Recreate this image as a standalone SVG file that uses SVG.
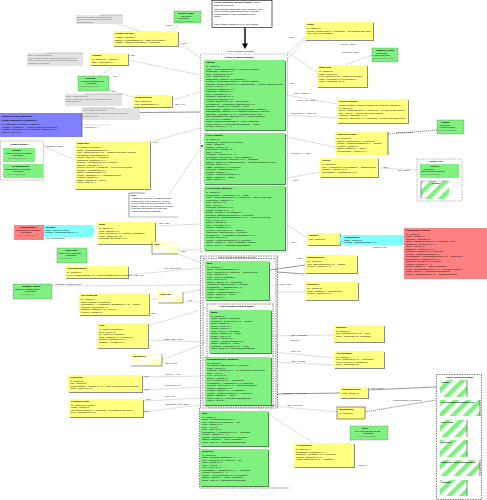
<svg xmlns="http://www.w3.org/2000/svg" width="487" height="500" viewBox="0 0 487 500">
<defs>
<style>
.t{font-family:"Liberation Sans",Arial,sans-serif;font-size:2.5px;fill:#000}
.b{font-weight:bold}
.n{fill:#666}
.lb{font-family:"Liberation Sans",Arial,sans-serif;font-size:2.5px;fill:#222}
.g{fill:#80f080}
.y{fill:#ffff80}
.sh{fill:#8a8a8a}
.gsh{fill:#4a8a4a}
.nt{fill:#e2e2e2}
.dc{fill:none;stroke:#777;stroke-width:0.5;stroke-dasharray:1.5,1}
.db{fill:none;stroke:#333;stroke-width:0.6;stroke-dasharray:1.5,1}
.ln{stroke:#555;stroke-width:0.4;stroke-dasharray:0.8,0.8;fill:none}
.sl{stroke:#333;stroke-width:0.5;fill:none}
.gd{stroke:#3a3a3a;stroke-width:0.6;stroke-dasharray:1.2,0.8}
</style>
<pattern id="hg" width="9" height="9" patternUnits="userSpaceOnUse" patternTransform="rotate(45)">
<rect width="9" height="9" fill="#ffffff"/><rect width="4.5" height="9" fill="#80f080"/>
</pattern>
<linearGradient id="yg" x1="0" y1="0" x2="1" y2="1">
<stop offset="0" stop-color="#ffff80"/><stop offset="0.5" stop-color="#ffffff"/><stop offset="1" stop-color="#ffff80"/>
</linearGradient>
</defs>
<rect width="487" height="500" fill="#fff"/>

<g id="connectors">
<line class="ln" x1="118" y1="24" x2="140" y2="31"/>
<line class="ln" x1="182" y1="23" x2="170" y2="31"/>
<text class="lb" x="165" y="26">«trace»</text>
<line class="ln" x1="178" y1="42" x2="201" y2="58"/>
<text class="lb" x="181" y="44">«use»</text>
<line class="ln" x1="305" y1="38" x2="287" y2="54"/>
<text class="lb" x="288" y="38">«use»</text>
<line class="ln" x1="287" y1="52" x2="317" y2="72"/>
<text class="lb" x="289" y="84">«use»</text>
<line class="ln" x1="372" y1="55" x2="345" y2="65"/>
<text class="lb" x="339" y="45">«refines» stops</text>
<text class="lb" x="341" y="53">«realises» point</text>
<line class="ln" x1="287" y1="95" x2="337" y2="104"/>
<text class="lb" x="293" y="94">«use» network</text>
<text class="lb" x="296" y="101">+lines «ref» route</text>
<line class="ln" x1="287" y1="115" x2="337" y2="118"/>
<text class="lb" x="290" y="114">+services 0..* «use» ref</text>
<line class="ln" x1="287" y1="137" x2="335" y2="147"/>
<text class="lb" x="290" y="154">+journey 0..* «use»</text>
<line class="gd" x1="388" y1="134" x2="437" y2="130"/>
<text class="lb" x="395" y="133">«derived» frame</text>
<line class="ln" x1="378" y1="168" x2="417" y2="170"/>
<text class="lb" x="382" y="168">«use»</text>
<text class="lb" x="397" y="171">«ref» comp</text>
<line class="ln" x1="287" y1="178" x2="320" y2="172"/>
<text class="lb" x="292" y="181">«use»</text>
<line class="ln" x1="287" y1="225" x2="310" y2="240"/>
<text class="lb" x="290" y="243">«use»</text>
<text class="lb" x="372" y="248">«refines» cnt</text>
<line class="sl" x1="270" y1="270" x2="305" y2="265"/>
<text class="lb" x="296" y="259">«use»</text>
<line class="sl" x1="277" y1="272" x2="305" y2="274"/>
<line class="ln" x1="277" y1="292" x2="305" y2="292"/>
<text class="lb" x="278" y="285">+zone «use»</text>
<line class="ln" x1="150" y1="244" x2="200" y2="262"/>
<text class="lb" x="163" y="269">«ref» stop place</text>
<line class="ln" x1="178" y1="250" x2="200" y2="250"/>
<text class="lb" x="180" y="252">«use»</text>
<line class="ln" x1="128" y1="275" x2="200" y2="268"/>
<text class="lb" x="133" y="276">«use» ref</text>
<line class="ln" x1="52" y1="286" x2="200" y2="285"/>
<text class="lb" x="54" y="285">«realises» network point</text>
<line class="ln" x1="149" y1="300" x2="200" y2="290"/>
<text class="lb" x="150" y="314">«use»</text>
<line class="ln" x1="183" y1="302" x2="200" y2="302"/>
<text class="lb" x="187" y="301">«ref»</text>
<line class="ln" x1="148" y1="326" x2="200" y2="310"/>
<line class="ln" x1="148" y1="340" x2="205" y2="342"/>
<text class="lb" x="163" y="340">+map «use» layer</text>
<line class="ln" x1="162" y1="360" x2="205" y2="343"/>
<text class="lb" x="164" y="364">«use» point</text>
<line class="ln" x1="142" y1="377" x2="205" y2="376"/>
<text class="lb" x="143" y="377">«use»</text>
<text class="lb" x="164" y="375">+layer 0..* «ref»</text>
<line class="ln" x1="142" y1="390" x2="205" y2="387"/>
<text class="lb" x="143" y="390">«use»</text>
<text class="lb" x="164" y="386">+projection 0..1</text>
<line class="ln" x1="142" y1="401" x2="205" y2="398"/>
<text class="lb" x="145" y="400">«use»</text>
<text class="lb" x="164" y="397">+link «ref»</text>
<line class="ln" x1="142" y1="412" x2="200" y2="405"/>
<text class="lb" x="143" y="412">«use»</text>
<text class="lb" x="164" y="405">+sequence «ref» order</text>
<line class="ln" x1="272" y1="336" x2="334" y2="335"/>
<text class="lb" x="290" y="336">«use» entrance</text>
<text class="lb" x="289" y="341">+quays 0..*</text>
<line class="ln" x1="272" y1="352" x2="334" y2="358"/>
<text class="lb" x="290" y="352">«use» ref</text>
<line class="ln" x1="272" y1="362" x2="334" y2="365"/>
<text class="lb" x="290" y="362">«use» access</text>
<line class="sl" x1="277" y1="394" x2="340" y2="393"/>
<text class="lb" x="281" y="394">+equipment «ref» place</text>
<line class="ln" x1="272" y1="406" x2="337" y2="412"/>
<text class="lb" x="286" y="406">«use» element</text>
<line class="sl" x1="368" y1="390" x2="436" y2="387"/>
<text class="lb" x="370" y="389">«use» types</text>
<line class="gd" x1="365" y1="412" x2="436" y2="400"/>
<text class="lb" x="392" y="401">«enumerations» values ref</text>
<line class="ln" x1="257" y1="407" x2="314" y2="443"/>
<line class="ln" x1="352" y1="440" x2="348" y2="444"/>
<text class="lb" x="357" y="466">«refines»</text>
<line class="ln" x1="128" y1="60" x2="200" y2="75"/>
<text class="lb" x="129" y="56">«use»</text>
<line class="ln" x1="100" y1="76" x2="115" y2="65"/>
<text class="lb" x="112" y="77">«ref»</text>
<line class="ln" x1="109" y1="90" x2="133" y2="97"/>
<text class="lb" x="110" y="92">«ref»</text>
<line class="ln" x1="172" y1="100" x2="200" y2="92"/>
<text class="lb" x="174" y="105">«use» ver</text>
<line x1="82" y1="113" x2="200" y2="112" stroke="#222" stroke-width="0.5"/>
<line x1="82" y1="125" x2="110" y2="125" stroke="#888" stroke-width="0.3"/>
<text class="lb" x="83" y="128">+versions 0..*</text>
<line class="ln" x1="150" y1="142" x2="200" y2="128"/>
<text class="lb" x="152" y="143">«use»</text>
<line class="ln" x1="43" y1="146" x2="75" y2="160"/>
<text class="lb" x="45" y="147">«realises» frame</text>
<line class="ln" x1="202" y1="146" x2="170" y2="193"/>
<circle cx="202" cy="146" r="0.9" fill="#222"/>
<line class="ln" x1="155" y1="226" x2="200" y2="224"/>
<text class="lb" x="158" y="224">«use» site</text>
<line class="ln" x1="287" y1="60" x2="305" y2="40"/>
</g>

<g id="note-top-gray">
<rect class="nt" x="76" y="15" width="47" height="9"/>
<line x1="100" y1="15" x2="123" y2="15" stroke="#888" stroke-width="0.5"/>
<text class="t n" x="77" y="17.5">Sources: IFOPT, Transmodel v5</text>
<text class="t n" x="77" y="20">derived from CEN TC 278 work</text>
<text class="t n" x="77" y="22.5">on stop places.</text>
</g>

<g id="green-top">
<rect class="g" x="174" y="11" width="27" height="12" stroke="#444" stroke-width="0.4" stroke-dasharray="1,0.6"/>
<text class="t b" x="178" y="14">NeTEx Frame</text>
<text class="t" x="180" y="16.5">«Package»</text>
<text class="t" x="177" y="19">Versioning</text>
<text class="t n" x="176" y="21.5">from Framework</text>
</g>

<g id="yellow-product">
<rect class="sh" x="114" y="32" width="65" height="15"/>
<rect class="y" x="113" y="31" width="65" height="15"/>
<text class="t b" x="115" y="34">ProductVersion</text>
<text class="t" x="115" y="38">version : String [1]</text>
<text class="t" x="115" y="40.5">status : VersionStatus [1] = draft (on creation)</text>
<text class="t" x="115" y="43">validity : ValidityCondition [0..*] {ordered}</text>
</g>

<g id="box-top-center">
<rect x="212" y="0.5" width="60" height="27" fill="#fff" stroke="#000" stroke-width="0.6"/>
<text class="t b" x="214" y="3">Public Transport Network Model - v1.0</text>
<text class="t" x="214" y="5.5">Stations overview</text>
<text class="t" x="214" y="9.5">This diagram shows the main classes of the</text>
<text class="t" x="214" y="12">public network stations package and their</text>
<text class="t" x="214" y="14.5">relationships to other packages of the</text>
<text class="t" x="214" y="17">model.</text>
<text class="t" x="214" y="24.5">Last modified 2012-03-14 by the editors</text>
<line x1="245" y1="27.5" x2="245" y2="44" stroke="#000" stroke-width="1.4"/>
<polygon points="242,43.5 248,43.5 245,49" fill="#000"/>
</g>

<g id="container-stations">
<text class="t" x="227" y="51.5">Public Network Package</text>
<rect class="dc" x="200.5" y="54" width="87" height="198"/>
<text class="t b" x="225" y="58">Public Network Stations</text>
</g>

<g id="green-station">
<rect class="gsh" x="205" y="61" width="81" height="70"/>
<rect class="g" x="204" y="60" width="81" height="70"/>
<text class="t b" x="206" y="63">Station</text>
<text class="t" x="206" y="67">id : String [1]</text>
<text class="t" x="206" y="69.5">name : MultilingualString [1..*] {ordered, unique}</text>
<text class="t" x="206" y="72">shortName : String [0..1]</text>
<text class="t" x="206" y="74.5">code : PublicCode [0..1]</text>
<text class="t" x="206" y="77">type : StationType [1]</text>
<text class="t" x="206" y="79.5">description : String [0..1] {readOnly}</text>
<text class="t" x="206" y="82">location : GeographicPoint [1] = default location</text>
<text class="t" x="206" y="84.5">address : PostalAddress [0..1] {subsets site} = primary address of site</text>
<text class="t" x="206" y="87">levels : Level [0..*]</text>
<text class="t" x="206" y="89.5">entrances : Entrance [1..*]</text>
<text class="t" x="206" y="92">platforms : Platform [0..*]</text>
<text class="t" x="206" y="94.5">zone : FareZone [0..1]</text>
<text class="t" x="206" y="97">operator : Operator [0..1]</text>
<text class="t" x="206" y="99.5">validFrom : DateTime [1]</text>
<text class="t" x="206" y="102">validTo : DateTime [0..1] = open ended</text>
<text class="t" x="206" y="104.5">accessibility : AccessibilityAssessment [0..1]</text>
<text class="t" x="206" y="107">facilities : Facility [0..*] {unique} = none</text>
<text class="t" x="206" y="109.5">parentStation : Station [0..1] {subsets group, readOnly}</text>
<text class="t" x="206" y="112">childStations : Station [0..*] {redefines members, ordered}</text>
<text class="t" x="206" y="114.5">timezone : TimeZone [0..1] = local time of the area</text>
<text class="t" x="206" y="117">wheelchairBoarding : Boolean [0..1] = false {readOnly}</text>
<text class="t" x="206" y="119.5">url : URI [0..1] {unique}</text>
<text class="t" x="206" y="122">status : OperationalStatus [1] = active {ordered}</text>
<text class="t" x="206" y="124.5">notes : Note [0..*] {subsets annotations} = empty</text>
<text class="t" x="206" y="127">version : Integer [1] = 1</text>
</g>

<g id="green-level">
<rect class="gsh" x="205" y="134" width="81" height="51"/>
<rect class="g" x="204" y="133" width="81" height="51"/>
<text class="t b" x="206" y="136">Level (Layout)</text>
<text class="t" x="206" y="140">id : String [1]</text>
<text class="t" x="206" y="142.5">publicCode : String [0..1] {unique}</text>
<text class="t" x="206" y="145">name : String [1]</text>
<text class="t" x="206" y="147.5">number : Integer [1]</text>
<text class="t" x="206" y="150">description : String [0..1]</text>
<text class="t" x="206" y="152.5">area : Area [1]</text>
<text class="t" x="206" y="155">elevation : Length [0..1] = 0</text>
<text class="t" x="206" y="157.5">accessible : Boolean [1] = true {readOnly}</text>
<text class="t" x="206" y="160">allAreasWheelchair : Boolean [0..1] = unknown</text>
<text class="t" x="206" y="162.5">station : Station [1] {subsets owner} = containing station of level</text>
<text class="t" x="206" y="165">spaces : Space [0..*]</text>
<text class="t" x="206" y="167.5">paths : PathLink [0..*] {ordered}</text>
<text class="t" x="206" y="170">junctions : PathJunction [0..*]</text>
<text class="t" x="206" y="172.5">version : Integer [1]</text>
<text class="t" x="206" y="175">validity : ValidityCondition [0..*]</text>
<text class="t" x="206" y="177.5">status : Status [1] = active</text>
<text class="t" x="206" y="180">notes : Note [0..*]</text>
</g>

<g id="green-pre">
<rect class="gsh" x="205" y="187" width="81" height="64"/>
<rect class="g" x="204" y="186" width="81" height="64"/>
<text class="t b" x="206" y="189">PrePlatform (abstract)</text>
<text class="t" x="206" y="193">id : String [1]</text>
<text class="t" x="206" y="195.5">allowedUse : AllowedUse [0..1] = both</text>
<text class="t" x="206" y="198">name : MultilingualString [1..*] {ordered} = name of the quay</text>
<text class="t" x="206" y="200.5">publicCode : String [0..1]</text>
<text class="t" x="206" y="203">label : String [0..1]</text>
<text class="t" x="206" y="205.5">area : Area [1]</text>
<text class="t" x="206" y="208">compass : Bearing [0..1]</text>
<text class="t" x="206" y="210.5">length : Length [0..1] = 0</text>
<text class="t" x="206" y="213">height : Length [0..1] {readOnly}</text>
<text class="t" x="206" y="215.5">boarding : BoardingPosition [0..*] {ordered}</text>
<text class="t" x="206" y="218">destinations : DestinationDisplay [0..*] = all services of line</text>
<text class="t" x="206" y="220.5">level : Level [0..1]</text>
<text class="t" x="206" y="223">station : Station [1]</text>
<text class="t" x="206" y="225.5">zone : FareZone [0..1]</text>
<text class="t" x="206" y="228">lighting : Lighting [0..1]</text>
<text class="t" x="206" y="230.5">covered : Covered [0..1] = indoors</text>
<text class="t" x="206" y="233">equipment : Equipment [0..*] {unique}</text>
<text class="t" x="206" y="235.5">accessibility : AccessibilityAssessment [0..1]</text>
<text class="t" x="206" y="238">version : Integer [1]</text>
<text class="t" x="206" y="240.5">validity : ValidityCondition [0..*] {ordered}</text>
<text class="t" x="206" y="243">status : Status [1] = active {readOnly, unique}</text>
<text class="t" x="206" y="245.5">notes : Note [0..*] {subsets annotations}</text>
</g>

<g id="container-misc">
<rect class="db" x="200.5" y="256" width="77" height="152"/>
<rect class="db" x="203" y="258.5" width="73" height="147"/>
<text class="t" x="218" y="258">Public Network Equipment Places</text>
</g>

<g id="green-misc">
<rect class="gsh" x="206" y="262" width="64" height="39"/>
<rect class="g" x="205" y="261" width="64" height="39"/>
<text class="t b" x="207" y="264">Misc</text>
<text class="t" x="207" y="267.5">id : String [1]</text>
<text class="t" x="207" y="270">name : MultilingualString [1..*]</text>
<text class="t" x="207" y="272.5">type : PlaceType [1] {ordered} = general place</text>
<text class="t" x="207" y="275">code : String [0..1]</text>
<text class="t" x="207" y="277.5">area : Area [1] {readOnly}</text>
<text class="t" x="207" y="280">level : Level [0..1]</text>
<text class="t" x="207" y="282.5">station : Station [1] = containing</text>
<text class="t" x="207" y="285">equipment : Equipment [0..*] {unique}</text>
<text class="t" x="207" y="287.5">accessibility : Assessment [0..1]</text>
<text class="t" x="207" y="290">version : Integer [1] = 1</text>
<text class="t" x="207" y="292.5">validity : ValidityCondition [0..*]</text>
<text class="t" x="207" y="295">status : Status [1] = active</text>
<text class="t" x="207" y="297.5">notes : Note [0..*]</text>
</g>

<g id="container-maps">
<rect class="db" x="207" y="304" width="66" height="103"/>
<text class="t b" x="219" y="307">Public Network Station Maps</text>
</g>

<g id="green-maps">
<rect class="gsh" x="210" y="311" width="62" height="43"/>
<rect class="g" x="209" y="310" width="62" height="43"/>
<text class="t b" x="211" y="313">Maps</text>
<text class="t" x="211" y="316.5">id : String [1]</text>
<text class="t" x="211" y="319">name : String [1] {ordered}</text>
<text class="t" x="211" y="321.5">projection : Projection [0..1] = default</text>
<text class="t" x="211" y="324">scale : Integer [1]</text>
<text class="t" x="211" y="326.5">layers : Layer [0..*]</text>
<text class="t" x="211" y="329">points : Point [0..*]</text>
<text class="t" x="211" y="331.5">links : Link [0..*] {ordered}</text>
<text class="t" x="211" y="334">station : Station [1] = owner</text>
<text class="t" x="211" y="336.5">image : URI [0..1]</text>
<text class="t" x="211" y="339">version : Integer [1]</text>
<text class="t" x="211" y="341.5">validity : ValidityCondition [0..*]</text>
<text class="t" x="211" y="344">status : Status [1] = active</text>
<text class="t" x="211" y="346.5">language : Language [0..1] = local</text>
<text class="t" x="211" y="349">notes : Note [0..*] {subsets annotations}</text>
</g>

<g id="green-equip">
<rect class="gsh" x="206" y="358" width="66" height="48"/>
<rect class="g" x="205" y="357" width="66" height="48"/>
<text class="t b" x="207" y="360">EquipmentPlace (abstract)</text>
<text class="t" x="207" y="363.5">id : String [1]</text>
<text class="t" x="207" y="366">equipment : Equipment [0..*] {unique}</text>
<text class="t" x="207" y="368.5">name : String [1]</text>
<text class="t" x="207" y="371">positions : Position [0..*] = all positions of equipment</text>
<text class="t" x="207" y="373.5">area : Area [1]</text>
<text class="t" x="207" y="376">level : Level [0..1]</text>
<text class="t" x="207" y="378.5">station : Station [1]</text>
<text class="t" x="207" y="381">type : PlaceType [1] = equipment</text>
<text class="t" x="207" y="383.5">accessibility : Assessment [0..1] {ordered}</text>
<text class="t" x="207" y="386">covered : Covered [0..1] = indoors {readOnly}</text>
<text class="t" x="207" y="388.5">lighting : Lighting [0..1]</text>
<text class="t" x="207" y="391">version : Integer [1] = 1 {readOnly}</text>
<text class="t" x="207" y="393.5">validity : ValidityCondition [0..*] {ordered}</text>
<text class="t" x="207" y="396">status : Status [1] = active</text>
<text class="t" x="207" y="398.5">notes : Note [0..*] {subsets annotations}</text>
<text class="t" x="207" y="401">parent : Site [1]</text>
</g>

<g id="container-bottom">
<polyline class="db" points="199.5,408 199.5,488 289,488"/>
</g>

<g id="green-item">
<rect class="gsh" x="201" y="412" width="68" height="35"/>
<rect class="g" x="200" y="411" width="68" height="35"/>
<text class="t b" x="202" y="414">Item</text>
<text class="t" x="202" y="417.5">id : String [1]</text>
<text class="t" x="202" y="420">name : MultilingualString [1..*]</text>
<text class="t" x="202" y="422.5">type : ItemType [1] {ordered} = any</text>
<text class="t" x="202" y="425">code : String [0..1]</text>
<text class="t" x="202" y="427.5">area : Area [1]</text>
<text class="t" x="202" y="430">level : Level [0..1]</text>
<text class="t" x="202" y="432.5">accessibility : Assessment [0..1] = unknown</text>
<text class="t" x="202" y="435">version : Integer [1] = 1</text>
<text class="t" x="202" y="437.5">validity : ValidityCondition [0..*] {ordered}</text>
<text class="t" x="202" y="440">status : Status [1] = active {readOnly}</text>
<text class="t" x="202" y="442.5">notes : Note [0..*] {subsets annotations}</text>
</g>

<g id="green-itemplace">
<rect class="gsh" x="201" y="450" width="68" height="37"/>
<rect class="g" x="200" y="449" width="68" height="37"/>
<text class="t b" x="202" y="452">ItemPlace</text>
<text class="t" x="202" y="455.5">id : String [1]</text>
<text class="t" x="202" y="458">name : MultilingualString [1..*]</text>
<text class="t" x="202" y="460.5">type : PlaceType [1] {ordered} = any</text>
<text class="t" x="202" y="463">code : String [0..1]</text>
<text class="t" x="202" y="465.5">area : Area [1]</text>
<text class="t" x="202" y="468">level : Level [0..1]</text>
<text class="t" x="202" y="470.5">accessibility : Assessment [0..1] = unknown</text>
<text class="t" x="202" y="473">version : Integer [1] = 1</text>
<text class="t" x="202" y="475.5">validity : ValidityCondition [0..*] {ordered}</text>
<text class="t" x="202" y="478">status : Status [1] = active {readOnly}</text>
<text class="t" x="202" y="480.5">notes : Note [0..*] {subsets annotations}</text>
</g>

<g id="y-topright">
<rect class="sh" x="306" y="23" width="68" height="18"/>
<rect class="y" x="305" y="22" width="68" height="18"/>
<text class="t b" x="307" y="25">Route</text>
<text class="t" x="307" y="29">id : String [1]</text>
<text class="t" x="307" y="31.5">points : RoutePoint [1..*] {ordered} = all points of the route</text>
<text class="t" x="307" y="34">line : Line [1] {readOnly}</text>
</g>

<g id="green-tr">
<rect class="g" x="372" y="48" width="26" height="14" stroke="#444" stroke-width="0.4" stroke-dasharray="1,0.6"/>
<text class="t b" x="376" y="51">Network Points</text>
<text class="t" x="376" y="53.5">«Package»</text>
<text class="t" x="374" y="56">Point and Link</text>
<text class="t n" x="373" y="58.5">from NeTEx Part 1</text>
</g>

<g id="y-stoppoint">
<rect class="sh" x="318" y="66" width="50" height="22"/>
<rect class="y" x="317" y="65" width="50" height="22"/>
<text class="t b" x="319" y="68">StopPoint</text>
<text class="t" x="319" y="72">id : String [1]</text>
<text class="t" x="319" y="74.5">name : String [1]</text>
<text class="t" x="319" y="77">type : StopType [1] = onstreet bus stop</text>
<text class="t" x="319" y="79.5">zone : FareZone [0..1] {readOnly}</text>
<text class="t" x="319" y="82">place : StopPlace [0..1]</text>
</g>

<g id="y-line">
<rect class="sh" x="338" y="100" width="71" height="24"/>
<rect class="y" x="337" y="99" width="71" height="24"/>
<text class="t b" x="339" y="102">ServiceJourney</text>
<text class="t" x="339" y="106">journeyPattern : JourneyPattern [1] {ordered, readOnly}</text>
<text class="t" x="339" y="108.5">id : String [1]</text>
<text class="t" x="339" y="111">times : PassingTime [1..*] {ordered} = all calls of the journey</text>
<text class="t" x="339" y="113.5">line : Line [1] = parent line of the pattern</text>
<text class="t" x="339" y="116">operator : Operator [0..1]</text>
<text class="t" x="339" y="118.5">dayType : DayType [1..*] {ordered} = service calendar of day</text>
</g>

<g id="y-frame">
<rect class="y" x="335" y="132" width="53" height="23"/>
<line x1="388" y1="132" x2="388" y2="155" stroke="#111" stroke-width="0.6"/>
<text class="t b" x="337" y="135">StopPlaceFrame</text>
<text class="t" x="337" y="139">id : String [1]</text>
<text class="t" x="337" y="141.5">places : StopPlace [0..*] {ordered}</text>
<text class="t" x="337" y="144">validity : ValidityCondition [0..*] = default</text>
<text class="t" x="337" y="146.5">version : Integer [1]</text>
<text class="t" x="337" y="149">status : Status [1] = active</text>
<text class="t" x="337" y="151.5">prerequisites : Frame [0..*]</text>
</g>

<g id="green-frame">
<rect class="g" x="437" y="120" width="27" height="14" stroke="#444" stroke-width="0.4" stroke-dasharray="1,0.6"/>
<text class="t b" x="441" y="123">Frames</text>
<text class="t" x="439" y="125.5">«Package»</text>
<text class="t" x="439" y="128">Version Frame</text>
<text class="t n" x="438" y="130.5">from Framework</text>
</g>

<g id="y-vehicle">
<rect class="sh" x="321" y="159" width="58" height="19"/>
<rect class="y" x="320" y="158" width="58" height="19"/>
<text class="t b" x="322" y="161">Vehicle</text>
<text class="t" x="322" y="165">id : String [1]</text>
<text class="t" x="322" y="167.5">type : VehicleType [1] {readOnly} = standard bus</text>
<text class="t" x="322" y="170">capacity : Integer [0..1]</text>
<text class="t" x="322" y="172.5">accessibility : Assessment [0..1]</text>
</g>

<g id="container-com">
<rect class="dc" x="417" y="159" width="45" height="42"/>
<text class="t b" x="429" y="162">Comp..Gen</text>
<rect class="g" x="420" y="164" width="39" height="14"/>
<text class="t b" x="430" y="167">Generic</text>
<text class="t" x="422" y="169.5">«Package»</text>
<text class="t" x="421" y="172">Component Generics</text>
<text class="t n" x="422" y="174.5">from Framework</text>
<rect x="421" y="181" width="28" height="18" fill="url(#hg)"/>
<line x1="421" y1="181" x2="449" y2="181" stroke="#777" stroke-width="0.4"/>
<line x1="421" y1="181" x2="421" y2="199" stroke="#333" stroke-width="0.5"/>
<text class="t b" x="432" y="184">Group</text>
</g>

<g id="y-small-right">
<rect class="sh" x="308" y="234" width="33" height="12"/>
<rect class="y" x="307" y="233" width="33" height="12"/>
<text class="t b" x="309" y="236">Contact</text>
<text class="t" x="309" y="240">info : String [1]</text>
</g>

<g id="cyan-right">
<path d="M344,235 L405,235 L405,245 L344,245 Q340,245 340,240 Q340,235 344,235 Z" fill="#80ffff"/>
<text class="t b" x="344" y="238">Organisation</text>
<text class="t" x="344" y="240.5">name : String [1]</text>
<text class="t" x="344" y="243">contact : ContactDetails [0..1]</text>
</g>

<g id="red-right">
<rect x="404" y="228" width="83" height="51" fill="#ff8080"/>
<text class="t b" x="406" y="231">Operational Context</text>
<text class="t" x="406" y="234.5">id : String [1]</text>
<text class="t" x="406" y="237">name : String [1]</text>
<text class="t" x="406" y="239.5">operator : Operator [1]</text>
<text class="t" x="406" y="242">mode : TransportMode [1..*] {ordered} = bus</text>
<text class="t" x="406" y="244.5">submode : Submode [0..1]</text>
<text class="t" x="406" y="247">area : Area [0..1]</text>
<text class="t" x="406" y="249.5">authority : Authority [0..1]</text>
<text class="t" x="406" y="252">contract : Contract [0..*] {ordered}</text>
<text class="t" x="406" y="254.5">validity : ValidityCondition [0..*]</text>
<text class="t" x="406" y="257">responsibility : ResponsibilitySet [0..1] = default set</text>
<text class="t" x="406" y="259.5">department : Department [0..*]</text>
<text class="t" x="406" y="262">garages : Garage [0..*] {unique}</text>
<text class="t" x="406" y="264.5">version : Integer [1] = 1</text>
<text class="t" x="406" y="267">status : Status [1] = active {readOnly}</text>
<text class="t" x="406" y="269.5">types : OrganisationType [1..*] = operator, authority</text>
<text class="t" x="406" y="272">notes : Note [0..*] {subsets annotations}</text>
<text class="t" x="406" y="274.5">parent : Organisation [0..1] = holding company</text>
</g>

<g id="y-r1">
<rect class="sh" x="306" y="256" width="52" height="18"/>
<rect class="y" x="305" y="255" width="52" height="18"/>
<text class="t b" x="307" y="258">EquipmentRef</text>
<text class="t" x="307" y="262">ref : String [1]</text>
<text class="t" x="307" y="264.5">type : EquipmentType [1] = default</text>
<text class="t" x="307" y="267">version : Integer [0..1]</text>
</g>

<g id="y-r2">
<rect class="sh" x="306" y="283" width="53" height="18"/>
<rect class="y" x="305" y="282" width="53" height="18"/>
<text class="t b" x="307" y="285">TariffZone</text>
<text class="t" x="307" y="289">ref : String [1]</text>
<text class="t" x="307" y="291.5">name : String [1] = default zone</text>
<text class="t" x="307" y="294">version : Integer [0..1]</text>
</g>

<g id="y-r3">
<rect class="sh" x="335" y="326" width="50" height="17"/>
<rect class="y" x="334" y="325" width="50" height="17"/>
<text class="t b" x="336" y="328">Entrance</text>
<text class="t" x="336" y="331.5">id : String [1]</text>
<text class="t" x="336" y="334">type : EntranceType [1] = main</text>
<text class="t" x="336" y="336.5">place : StopPlace [1] {readOnly}</text>
</g>

<g id="y-r4">
<rect class="sh" x="335" y="352" width="50" height="17"/>
<rect class="y" x="334" y="351" width="50" height="17"/>
<text class="t b" x="336" y="354">AccessSpace</text>
<text class="t" x="336" y="357.5">id : String [1]</text>
<text class="t" x="336" y="360">type : SpaceType [1] = concourse</text>
<text class="t" x="336" y="362.5">level : Level [0..1] {readOnly}</text>
<text class="t" x="336" y="365">place : StopPlace [1]</text>
</g>

<g id="y-r5">
<rect class="sh" x="341" y="388" width="28" height="11"/>
<rect class="y" x="340" y="387" width="28" height="11"/>
<text class="t b" x="342" y="390">EquipmentType</text>
<text class="t" x="342" y="394">kind : String [1]</text>
</g>

<g id="y-r6">
<rect class="y" x="337" y="407" width="28" height="12" stroke="#222" stroke-width="0.5"/>
<text class="t b" x="339" y="410">SiteElement</text>
<text class="t" x="339" y="414">id : String [1]</text>
</g>

<g id="green-r7">
<rect class="g" x="350" y="426" width="38" height="14" stroke="#444" stroke-width="0.4" stroke-dasharray="1,0.6"/>
<text class="t b" x="362" y="429">Sites</text>
<text class="t" x="355" y="431.5">Site and Site Elements</text>
<text class="t" x="362" y="434">«Package»</text>
<text class="t n" x="358" y="436.5">from Framework</text>
</g>

<g id="y-r8">
<rect class="sh" x="295" y="444" width="60" height="24"/>
<rect class="y" x="294" y="443" width="60" height="24"/>
<text class="t b" x="296" y="446">Accessibility</text>
<text class="t" x="296" y="450">id : String [1]</text>
<text class="t" x="296" y="452.5">limitations : Limitation [0..*]</text>
<text class="t" x="296" y="455">suitability : Suitability [0..*] {ordered}</text>
<text class="t" x="296" y="457.5">mobility : Boolean [0..1]</text>
<text class="t" x="296" y="460">visual : Boolean [0..1] = unknown</text>
</g>

<g id="container-enums">
<rect class="db" x="436.5" y="374.5" width="45" height="125"/>
<text class="t b" x="446" y="377.5">Public Network Enums</text>
<rect x="440" y="380" width="27" height="17" fill="url(#hg)"/>
<line x1="467" y1="380" x2="467" y2="397" stroke="#333" stroke-width="0.6"/>
<text class="t b" x="441" y="383">Status</text>
<rect x="440" y="400" width="40" height="16" fill="url(#hg)"/>
<line x1="480" y1="400" x2="480" y2="416" stroke="#333" stroke-width="0.6"/>
<text class="t b" x="441" y="403">AccessibilityLimitation Type</text>
<rect x="440" y="420" width="27" height="17" fill="url(#hg)"/>
<line x1="467" y1="420" x2="467" y2="437" stroke="#333" stroke-width="0.6"/>
<text class="t b" x="441" y="423">Level Type</text>
<rect x="440" y="440" width="27" height="17" fill="url(#hg)"/>
<line x1="467" y1="440" x2="467" y2="457" stroke="#333" stroke-width="0.6"/>
<text class="t b" x="441" y="443">Covered</text>
<rect x="440" y="460" width="40" height="16" fill="url(#hg)"/>
<line x1="480" y1="460" x2="480" y2="476" stroke="#333" stroke-width="0.6"/>
<text class="t b" x="441" y="463">StopPlace Type Enumeration</text>
<rect x="440" y="480" width="27" height="16" fill="url(#hg)"/>
<line x1="467" y1="480" x2="467" y2="496" stroke="#333" stroke-width="0.6"/>
<text class="t b" x="441" y="483">Lighting</text>
</g>

<g id="note-left1">
<rect class="nt" x="27" y="53" width="56" height="13"/>
<line x1="45" y1="53" x2="83" y2="53" stroke="#888" stroke-width="0.5"/>
<text class="t n" x="28" y="55.5">Note: ProductVersion</text>
<text class="t n" x="28" y="58.5">The version of the product is defined by the</text>
<text class="t n" x="28" y="61">frame in which it is delivered; see versioning</text>
<text class="t n" x="28" y="63.5">package for details.</text>
</g>

<g id="y-left1">
<rect class="sh" x="91" y="54" width="38" height="12"/>
<rect class="y" x="90" y="53" width="38" height="12"/>
<text class="t b" x="92" y="56">Version</text>
<text class="t" x="92" y="60">id : String [1] = current</text>
<text class="t" x="92" y="62.5">date : DateTime [1]</text>
</g>

<g id="green-left1">
<rect class="g" x="78" y="76" width="31" height="15" stroke="#444" stroke-width="0.4" stroke-dasharray="1,0.6"/>
<text class="t b" x="85" y="79">Versions</text>
<text class="t" x="80" y="81.5">Version Management</text>
<text class="t" x="85" y="84">«Package»</text>
<text class="t n" x="81" y="86.5">from Framework</text>
</g>

<g id="note-left2">
<rect class="nt" x="65" y="94" width="57" height="12"/>
<line x1="85" y1="94" x2="122" y2="94" stroke="#888" stroke-width="0.5"/>
<text class="t n" x="66" y="96.5">Note: Responsibility</text>
<text class="t n" x="66" y="99.5">Every entity may have a responsibility set</text>
<text class="t n" x="66" y="102">assigned to it.</text>
</g>

<g id="y-left2">
<rect class="sh" x="134" y="96" width="39" height="12"/>
<rect class="y" x="133" y="95" width="39" height="12"/>
<text class="t b" x="135" y="98">Responsibility</text>
<text class="t" x="135" y="102">role : String [1]</text>
<text class="t" x="135" y="104.5">org : Organisation [1]</text>
</g>

<g id="note-left3">
<rect class="nt" x="82" y="108" width="58" height="12"/>
<line x1="82" y1="108" x2="115" y2="108" stroke="#888" stroke-width="0.5"/>
<text class="t n" x="83" y="110.5">Note: EntityInVersion</text>
<text class="t n" x="83" y="114">All objects are versioned and belong to a</text>
<text class="t n" x="83" y="116.5">version frame.</text>
</g>

<g id="blue-left">
<rect x="0" y="113" width="82" height="24" fill="#8080ff"/>
<line x1="82" y1="113" x2="82" y2="137" stroke="#444" stroke-width="0.6"/>
<text class="t b" x="2" y="117">EntityInVersion (abstract)</text>
<text class="t b" x="2" y="120.5">(from Framework Versioning)</text>
<text class="t" x="2" y="125">id : ObjectId [1] {unique, readOnly}</text>
<text class="t" x="2" y="127.5">version : Version [1] = current version of the frame</text>
<text class="t" x="2" y="130">created : DateTime [0..1] changed : DateTime [0..1]</text>
<text class="t" x="2" y="132.5">status : Status [1]</text>
</g>

<g id="container-left">
<rect class="dc" x="0.5" y="141" width="43" height="39"/>
<text class="t b" x="10" y="145">Frames Module</text>
<rect class="g" x="3" y="148" width="32" height="14"/>
<text class="t b" x="12" y="151">Frames</text>
<text class="t" x="5" y="153.5">Version Frame Package</text>
<text class="t" x="12" y="156">«Package»</text>
<text class="t n" x="8" y="158.5">from Framework</text>
<rect class="g" x="3" y="164" width="40" height="14"/>
<text class="t b" x="12" y="167">Responsibility</text>
<text class="t" x="5" y="169.5">Responsibility Package</text>
<text class="t" x="12" y="172">«Package»</text>
<text class="t n" x="8" y="174.5">from Framework</text>
</g>

<g id="y-left3">
<rect class="sh" x="76" y="142" width="75" height="48"/>
<rect class="y" x="75" y="141" width="75" height="48"/>
<text class="t b" x="77" y="144">StopPlace</text>
<text class="t" x="77" y="148">id : String [1] {unique}</text>
<text class="t" x="77" y="150.5">name : MultilingualString [1..*]</text>
<text class="t" x="77" y="153">type : StopPlaceType [1] = onstreet bus stop (default)</text>
<text class="t" x="77" y="155.5">weighting : Interchange [0..1]</text>
<text class="t" x="77" y="158">quays : Quay [0..*] {ordered}</text>
<text class="t" x="77" y="160.5">entrances : Entrance [0..*]</text>
<text class="t" x="77" y="163">spaces : AccessSpace [0..*] {unique}</text>
<text class="t" x="77" y="165.5">parking : Parking [0..*]</text>
<text class="t" x="77" y="168">levels : Level [0..*] {ordered} = all levels of the site</text>
<text class="t" x="77" y="170.5">access : AccessMode [0..*]</text>
<text class="t" x="77" y="173">mode : TransportMode [1]</text>
<text class="t" x="77" y="175.5">zones : TariffZone [0..*] {subsets zones}</text>
<text class="t" x="77" y="178">version : Integer [1]</text>
<text class="t" x="77" y="180.5">status : Status [1] = active</text>
<text class="t" x="77" y="183">notes : Note [0..*]</text>
</g>

<g id="note-white">
<rect x="129" y="193" width="50" height="24" fill="#fff"/>
<line x1="129" y1="193" x2="129" y2="217" stroke="#333" stroke-width="0.5"/>
<line x1="129" y1="193" x2="145" y2="193" stroke="#333" stroke-width="0.5"/>
<line x1="129" y1="217" x2="178" y2="217" stroke="#555" stroke-width="0.4"/>
<text class="t b" x="131" y="196">Note</text>
<text class="t" x="131" y="199">A station is a group of platforms and</text>
<text class="t" x="131" y="201.5">spaces; the levels describe vertical</text>
<text class="t" x="131" y="204">layout; each platform belongs to one</text>
<text class="t" x="131" y="206.5">station, and may be shared by several</text>
<text class="t" x="131" y="209">lines and operators; see also the</text>
<text class="t" x="131" y="211.5">equipment places package.</text>
</g>

<g id="red-left">
<rect x="14" y="225" width="30" height="15" fill="#ff8080"/>
<text class="t b" x="19" y="228">Organisations</text>
<text class="t" x="16" y="230.5">Organisation Package</text>
<text class="t" x="20" y="233">«Package»</text>
<text class="t n" x="18" y="235.5">from Framework</text>
</g>

<g id="cyan-left">
<path d="M44,225 L92,225 Q97,231 92,237 L44,237 Z" fill="#80ffff"/>
<text class="t b" x="45" y="228">Operator</text>
<text class="t" x="45" y="230.5">name : String [1] code</text>
<text class="t" x="45" y="233">contact : ContactDetails [0..1]</text>
<text class="t" x="45" y="239">«ref» organisation</text>
</g>

<g id="y-left4">
<rect class="sh" x="98" y="223" width="58" height="22"/>
<rect class="y" x="97" y="222" width="58" height="22"/>
<text class="t b" x="99" y="225">Quay</text>
<text class="t" x="99" y="229">id : String [1]</text>
<text class="t" x="99" y="231.5">code : String [0..1]</text>
<text class="t" x="99" y="234">type : QuayType [1] = bus bay {readOnly}</text>
<text class="t" x="99" y="236.5">place : StopPlace [1]</text>
<text class="t" x="99" y="239">compass : Bearing [0..1]</text>
</g>

<g id="yg-left1">
<rect x="152" y="242" width="26" height="12" fill="url(#yg)"/>
<line x1="152" y1="242" x2="152" y2="254" stroke="#333" stroke-width="0.5"/>
<line x1="152" y1="254" x2="178" y2="254" stroke="#333" stroke-width="0.5"/>
<text class="t b" x="154" y="245">Spot</text>
</g>

<g id="green-left2">
<rect class="g" x="57" y="248" width="30" height="15" stroke="#444" stroke-width="0.4" stroke-dasharray="1,0.6"/>
<text class="t b" x="65" y="251">Stop Place</text>
<text class="t" x="59" y="253.5">Stop Place Package</text>
<text class="t" x="65" y="256">«Package»</text>
<text class="t n" x="60" y="258.5">from Part 1</text>
</g>

<g id="y-left5">
<rect class="sh" x="66" y="267" width="63" height="12"/>
<rect class="y" x="65" y="266" width="63" height="12"/>
<text class="t b" x="67" y="269">FunctionalEntity</text>
<text class="t" x="67" y="273">id : String [1]</text>
<text class="t" x="67" y="275.5">type : FunctionalType [1] = default classification of element</text>
</g>

<g id="green-left3">
<rect class="g" x="13" y="284" width="39" height="15" stroke="#444" stroke-width="0.4" stroke-dasharray="1,0.6"/>
<text class="t b" x="22" y="287">Network Places</text>
<text class="t" x="15" y="289.5">Network Infrastructure</text>
<text class="t" x="24" y="292">«Package»</text>
<text class="t n" x="21" y="294.5">from Part 1</text>
</g>

<g id="y-left6">
<rect class="sh" x="80" y="294" width="70" height="22"/>
<rect class="y" x="79" y="293" width="70" height="22"/>
<text class="t b" x="81" y="296">Site Elements</text>
<text class="t" x="81" y="300">id : String [1]</text>
<text class="t" x="81" y="302.5">name : String [1] {ordered}</text>
<text class="t" x="81" y="305">accessibility : AccessibilityAssessment [0..1] = default</text>
<text class="t" x="81" y="307.5">covered : Covered [0..1]</text>
<text class="t" x="81" y="310">lighting : Lighting [0..1] = well lit</text>
<text class="t" x="81" y="312.5">version : Integer [1]</text>
</g>

<g id="yg-left2">
<rect x="158" y="292" width="25" height="11" fill="url(#yg)"/>
<line x1="183" y1="292" x2="183" y2="303" stroke="#333" stroke-width="0.5"/>
<line x1="158" y1="303" x2="183" y2="303" stroke="#333" stroke-width="0.5"/>
<text class="t b" x="160" y="295">Path Link</text>
</g>

<g id="y-left7">
<rect class="sh" x="98" y="324" width="51" height="25"/>
<rect class="y" x="97" y="323" width="51" height="25"/>
<text class="t b" x="99" y="326">Path</text>
<text class="t" x="99" y="330">id : String [1] {unique}</text>
<text class="t" x="99" y="332.5">from : Place [1]</text>
<text class="t" x="99" y="335">to : Place [1] {readOnly}</text>
<text class="t" x="99" y="337.5">links : PathLink [1..*] {ordered}</text>
<text class="t" x="99" y="340">duration : Duration [0..1]</text>
<text class="t" x="99" y="342.5">distance : Length [0..1]</text>
</g>

<g id="yg-left3">
<rect x="131" y="354" width="31" height="12" fill="url(#yg)"/>
<line x1="162" y1="354" x2="162" y2="366" stroke="#333" stroke-width="0.5"/>
<line x1="131" y1="366" x2="162" y2="366" stroke="#333" stroke-width="0.5"/>
<text class="t b" x="133" y="357">Navigation</text>
</g>

<g id="y-left8">
<rect class="sh" x="69" y="376" width="74" height="17"/>
<rect class="y" x="68" y="375" width="74" height="17"/>
<text class="t b" x="70" y="378">Projection</text>
<text class="t" x="70" y="381.5">id : String [1]</text>
<text class="t" x="70" y="384">type : String [1]</text>
<text class="t" x="70" y="386.5">spatialFeature : Feature [0..1] = point of projection on the map</text>
<text class="t" x="70" y="389">order : Integer [0..1]</text>
</g>

<g id="y-left9">
<rect class="sh" x="70" y="400" width="74" height="18"/>
<rect class="y" x="69" y="399" width="74" height="18"/>
<text class="t b" x="71" y="402">GroupOfPoints</text>
<text class="t" x="71" y="405.5">id : String [1] {unique}</text>
<text class="t" x="71" y="408">name : String [1]</text>
<text class="t" x="71" y="410.5">members : Point [1..*] {ordered} = all points of the group</text>
<text class="t" x="71" y="413">type : GroupType [0..1]</text>
</g>
</svg>
